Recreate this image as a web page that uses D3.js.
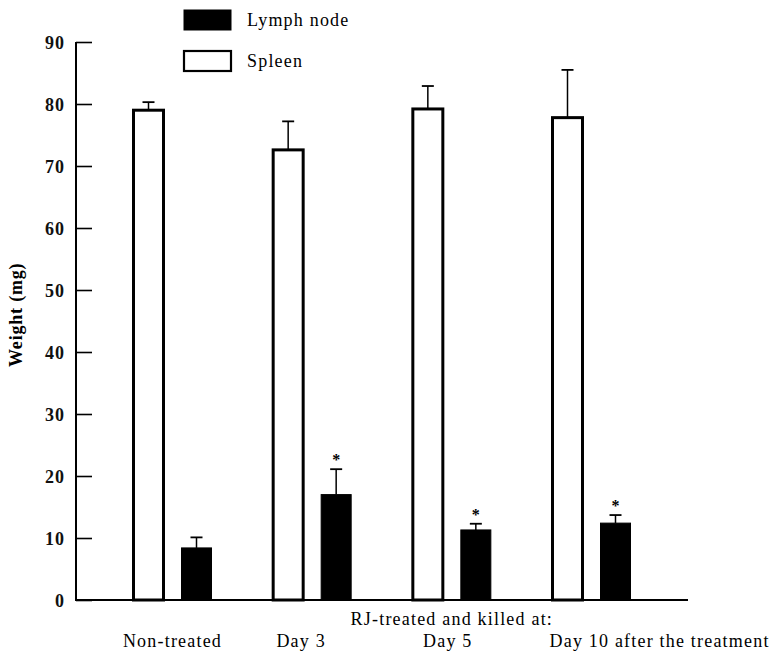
<html>
<head>
<script src="https://d3js.org/d3.v7.min.js"></script>
</head>
<body style="margin:0;background:#fff">
<div id="chart"></div>
<script>
// groups along the x axis
var groups = ["Non-treated", "Day 3", "Day 5", "Day 10"];
var groupLabels = ["Non-treated", "Day 3", "Day 5", "Day 10 after the treatment"];
var series = ["Spleen", "Lymph node"];

// mean weight (mg) and upper SD bar
var spleenMean = [79.0, 72.6, 79.2, 77.8];
var spleenErr  = [1.3, 4.6, 3.7, 7.7];
var lymphMean  = [8.4, 17.0, 11.3, 12.4];
var lymphErr   = [1.7, 4.1, 1.0, 1.3];
var significant = [false, true, true, true];

var yTicks = [0, 10, 20, 30, 40, 50, 60, 70, 80, 90];

var width = 772, height = 652;
var serif = "'Liberation Serif', 'DejaVu Serif', serif";

var svg = d3.select("#chart")
    .append("svg")
    .attr("width", width)
    .attr("height", height);

var y = d3.scaleLinear()
    .domain([0, 90])
    .range([600, 42]);

var x = d3.scalePoint()
    .domain(groups)
    .range([172.5, 591.5]);

var xSub = d3.scaleBand()
    .domain(series)
    .range([-39, 39])
    .paddingInner(0.375);

var data = [];
groups.forEach(function(g, i) {
    data.push({group: g, key: "Spleen", value: spleenMean[i], err: spleenErr[i], star: false});
    data.push({group: g, key: "Lymph node", value: lymphMean[i], err: lymphErr[i], star: significant[i]});
});

// y axis
var yAxis = svg.append("g")
    .attr("transform", "translate(76,0)")
    .call(d3.axisRight(y).tickValues(yTicks).tickSize(16).tickFormat(d3.format("d")));
yAxis.select(".domain").remove();
yAxis.selectAll(".tick line").attr("stroke", "#000").attr("stroke-width", 1.6);
yAxis.selectAll(".tick text")
    .attr("x", -11)
    .attr("dy", "0.35em")
    .style("text-anchor", "end")
    .style("font-family", serif)
    .style("font-size", "18px")
    .style("font-weight", "bold")
    .style("letter-spacing", "1px")
    .attr("fill", "#111");

svg.append("line")
    .attr("x1", 76).attr("x2", 76)
    .attr("y1", y(90)).attr("y2", y(0))
    .attr("stroke", "#000").attr("stroke-width", 2);

// baseline
svg.append("line")
    .attr("x1", 75).attr("x2", 688)
    .attr("y1", y(0)).attr("y2", y(0))
    .attr("stroke", "#000").attr("stroke-width", 2);

// error bars (upper only)
var eb = svg.append("g").selectAll("g")
    .data(data)
    .enter()
    .append("g")
    .attr("transform", function(d) {
        return "translate(" + (x(d.group) + xSub(d.key) + xSub.bandwidth() / 2) + ",0)";
    });
eb.append("line")
    .attr("x1", 0).attr("x2", 0)
    .attr("y1", function(d) { return y(d.value); })
    .attr("y2", function(d) { return y(d.value + d.err); })
    .attr("stroke", "#000").attr("stroke-width", 1.5);
eb.append("line")
    .attr("x1", -6).attr("x2", 6)
    .attr("y1", function(d) { return y(d.value + d.err); })
    .attr("y2", function(d) { return y(d.value + d.err); })
    .attr("stroke", "#000").attr("stroke-width", 1.8);
eb.filter(function(d) { return d.star; })
    .append("text")
    .attr("y", function(d) { return y(d.value + d.err) - 4; })
    .style("text-anchor", "middle")
    .style("font-family", serif)
    .style("font-size", "16px")
    .style("font-weight", "bold")
    .text("*");

// bars
svg.append("g").selectAll("rect")
    .data(data)
    .enter()
    .append("rect")
    .attr("x", function(d) { return x(d.group) + xSub(d.key); })
    .attr("y", function(d) { return y(d.value); })
    .attr("width", xSub.bandwidth())
    .attr("height", function(d) { return y(0) - y(d.value); })
    .attr("fill", function(d) { return d.key == "Spleen" ? "#fff" : "#000"; })
    .attr("stroke", "#000")
    .attr("stroke-width", function(d) { return d.key == "Spleen" ? 3 : 1; });

// legend
var legend = svg.append("g").selectAll("g")
    .data(["Lymph node", "Spleen"])
    .enter()
    .append("g")
    .attr("transform", function(d, i) { return "translate(184," + (10 + i * 41) + ")"; });
legend.append("rect")
    .attr("width", 47).attr("height", 20)
    .attr("fill", function(d) { return d == "Spleen" ? "#fff" : "#000"; })
    .attr("stroke", "#000")
    .attr("stroke-width", function(d) { return d == "Spleen" ? 2.2 : 1; });
legend.append("text")
    .attr("x", 63).attr("y", 16)
    .style("font-family", serif)
    .style("font-size", "18px")
    .style("letter-spacing", "1.2px")
    .text(function(d) { return d; });

// x labels
svg.append("text")
    .attr("x", x("Day 5"))
    .attr("y", 625)
    .style("text-anchor", "middle")
    .style("font-family", serif)
    .style("font-size", "18px")
    .style("letter-spacing", "1.2px")
    .text("RJ-treated and killed at:");

var labelShift = [0, -11, -4, -42];
svg.append("g").selectAll("text")
    .data(groups)
    .enter()
    .append("text")
    .attr("x", function(d, i) { return x(d) + labelShift[i]; })
    .attr("y", 647)
    .style("text-anchor", function(d, i) { return i == 3 ? "start" : "middle"; })
    .style("font-family", serif)
    .style("font-size", "18px")
    .style("letter-spacing", "1.2px")
    .text(function(d, i) { return groupLabels[i]; });

// y label
svg.append("text")
    .attr("transform", "translate(22," + y(46) + ") rotate(-90)")
    .style("text-anchor", "middle")
    .style("font-family", serif)
    .style("font-size", "18px")
    .style("font-weight", "bold")
    .style("letter-spacing", "0.8px")
    .text("Weight (mg)");
</script>
</body>
</html>
